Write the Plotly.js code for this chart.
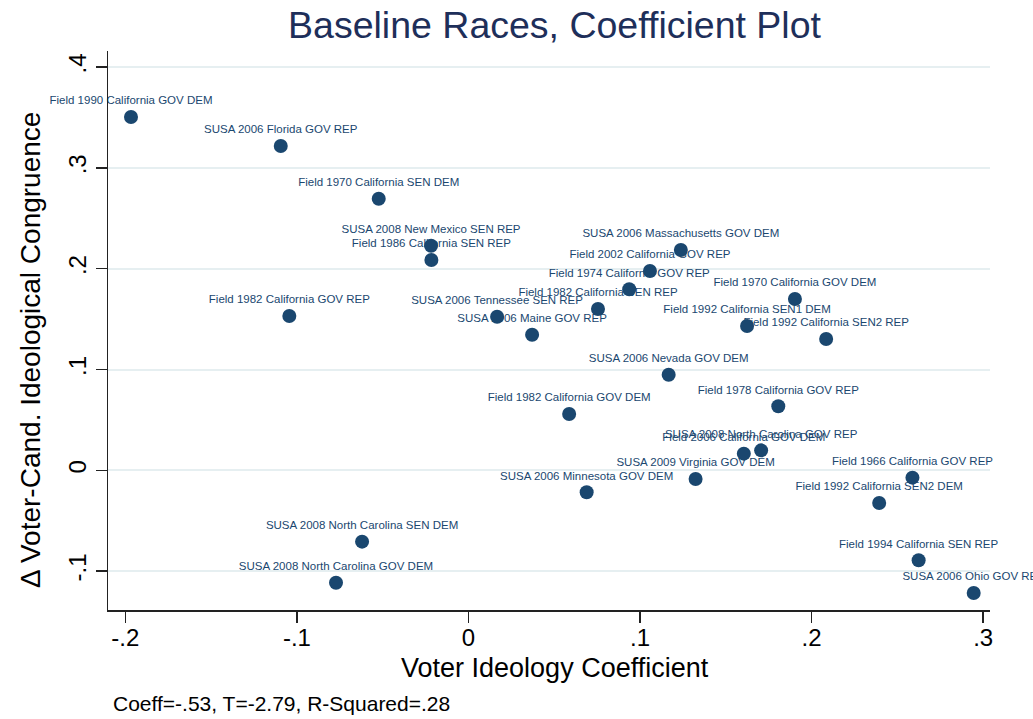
<!DOCTYPE html>
<html>
<head>
<meta charset="utf-8">
<script src="https://cdn.plot.ly/plotly-3.0.1.min.js"></script>
<style>html,body{margin:0;padding:0;background:#fff;}#chart{width:1033px;height:719px;}</style>
</head>
<body>
<div id="chart"></div>
<script>
// Race labels
const races = [
  "Field 1990 California GOV DEM",
  "SUSA 2006 Florida GOV REP",
  "Field 1970 California SEN DEM",
  "SUSA 2008 New Mexico SEN REP",
  "Field 1986 California SEN REP",
  "Field 1982 California GOV REP",
  "SUSA 2006 Tennessee SEN REP",
  "SUSA 2006 Maine GOV REP",
  "Field 1982 California SEN REP",
  "Field 1974 California GOV REP",
  "Field 2002 California GOV REP",
  "SUSA 2006 Massachusetts GOV DEM",
  "Field 1970 California GOV DEM",
  "Field 1992 California SEN1 DEM",
  "Field 1992 California SEN2 REP",
  "SUSA 2006 Nevada GOV DEM",
  "Field 1982 California GOV DEM",
  "Field 1978 California GOV REP",
  "Field 2006 California GOV DEM",
  "SUSA 2008 North Carolina GOV REP",
  "SUSA 2009 Virginia GOV DEM",
  "SUSA 2006 Minnesota GOV DEM",
  "Field 1966 California GOV REP",
  "Field 1992 California SEN2 DEM",
  "Field 1994 California SEN REP",
  "SUSA 2006 Ohio GOV REP",
  "SUSA 2008 North Carolina SEN DEM",
  "SUSA 2008 North Carolina GOV DEM"
];
// Voter ideology coefficient (x)
const voterIdeology = [
  -0.1967, -0.1094, -0.0523, -0.0218, -0.0216, -0.1044, 0.0167, 0.0371,
  0.0755, 0.0937, 0.1058, 0.1238, 0.1903, 0.1624, 0.2085, 0.1167,
  0.0587, 0.1806, 0.1605, 0.1706, 0.1324, 0.0689, 0.2588, 0.2394,
  0.2624, 0.2945, -0.0620, -0.0772
];
// Change in voter-candidate ideological congruence (y)
const congruence = [
  0.3505, 0.3217, 0.2694, 0.2228, 0.2086, 0.1531, 0.1524, 0.1345,
  0.1600, 0.1796, 0.1977, 0.2185, 0.1699, 0.1432, 0.1303, 0.0948,
  0.0559, 0.0635, 0.0165, 0.0198, -0.0086, -0.0218, -0.0073, -0.0324,
  -0.0893, -0.1217, -0.0708, -0.1115
];
const xTickVals = [-0.2, -0.1, 0, 0.1, 0.2, 0.3];
const xTickText = ["-.2", "-.1", "0", ".1", ".2", ".3"];
const yTickVals = [-0.1, 0, 0.1, 0.2, 0.3, 0.4];
const yTickText = ["-.1", "0", ".1", ".2", ".3", ".4"];
const xTitle = "Voter Ideology Coefficient";
const yTitle = "Δ Voter-Cand. Ideological Congruence";
const statsNote = "Coeff=-.53, T=-2.79, R-Squared=.28";

const navy = "#1a476f";
const font = "Liberation Sans, Arial, Helvetica, sans-serif";

const trace = {
  type: "scatter",
  mode: "markers+text",
  x: voterIdeology,
  y: congruence,
  text: races,
  textposition: "top center",
  textfont: {family: font, size: 11.5, color: navy},
  marker: {size: 14, color: navy},
  cliponaxis: false,
  hoverinfo: "x+y+text"
};

const layout = {
  width: 1033,
  height: 719,
  margin: {l: 108, r: 43, t: 51, b: 109},
  paper_bgcolor: "#ffffff",
  plot_bgcolor: "#ffffff",
  showlegend: false,
  font: {family: font, color: "#000"},
  title: {
    text: "Baseline Races, Coefficient Plot",
    font: {family: font, size: 37.5, color: "#1e2f5a"},
    x: 0.5368, xref: "container", xanchor: "center",
    y: 0.965, yref: "container", yanchor: "middle"
  },
  xaxis: {
    range: [-0.2101, 0.304],
    tickvals: xTickVals,
    ticktext: xTickText,
    tickfont: {family: font, size: 24, color: "#000"},
    ticklabelstandoff: -5,
    ticks: "outside", ticklen: 11, tickwidth: 1.5, tickcolor: "#222",
    showline: true, linecolor: "#222", linewidth: 1.5,
    showgrid: false, zeroline: false,
    automargin: false
  },
  yaxis: {
    range: [-0.1386, 0.416],
    tickvals: yTickVals,
    ticktext: yTickText,
    tickangle: -90,
    tickfont: {family: font, size: 24, color: "#000"},
    ticks: "outside", ticklen: 11, tickwidth: 1.5, tickcolor: "#222",
    showline: true, linecolor: "#222", linewidth: 1.5,
    showgrid: true, gridcolor: "#e6eff1", gridwidth: 2,
    zeroline: false,
    automargin: false
  },
  annotations: [{
    text: xTitle,
    xref: "paper", yref: "paper",
    x: 0.5068, y: -0.1038,
    xanchor: "center", yanchor: "middle",
    showarrow: false,
    font: {family: font, size: 27, color: "#000"}
  }, {
    text: yTitle,
    xref: "paper", yref: "paper",
    x: -0.0885, y: 0.4651,
    xanchor: "center", yanchor: "middle",
    textangle: -90,
    showarrow: false,
    font: {family: font, size: 28, color: "#000"}
  }, {
    text: statsNote,
    xref: "paper", yref: "paper",
    x: 0.0034, y: -0.1664,
    xanchor: "left", yanchor: "middle",
    showarrow: false,
    font: {family: font, size: 21, color: "#000"}
  }]
};

Plotly.newPlot("chart", [trace], layout, {displayModeBar: false, staticPlot: true});
</script>
</body>
</html>
